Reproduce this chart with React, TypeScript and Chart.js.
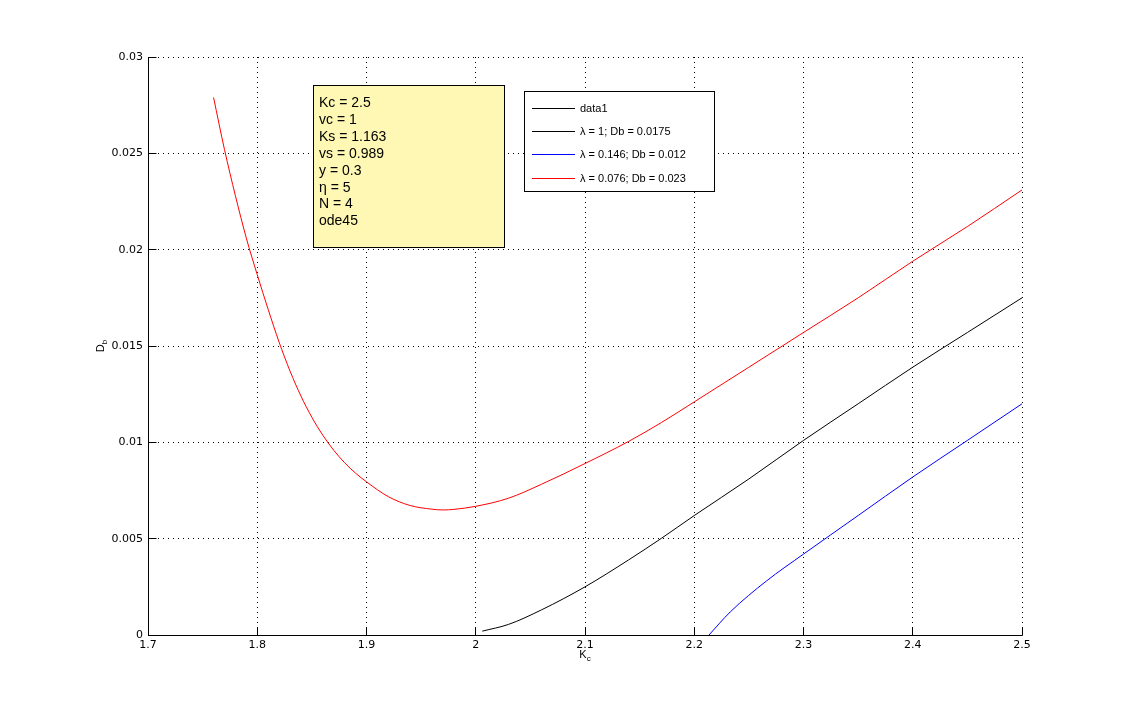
import React, { useEffect, useRef } from "react";
import { Chart, registerables } from "chart.js";

Chart.register(...registerables);

// ---- axes ----
const xTickValues = [1.7, 1.8, 1.9, 2.0, 2.1, 2.2, 2.3, 2.4, 2.5];
const xTickLabels = ["1.7", "1.8", "1.9", "2", "2.1", "2.2", "2.3", "2.4", "2.5"];
const yTickValues = [0, 0.005, 0.01, 0.015, 0.02, 0.025, 0.03];
const yTickLabels = ["0", "0.005", "0.01", "0.015", "0.02", "0.025", "0.03"];

// ---- series ----
const seriesLabels = [
  "data1",
  "λ = 1; Db = 0.0175",
  "λ = 0.146; Db = 0.012",
  "λ = 0.076; Db = 0.023",
];
const seriesColors = ["#000000", "#000000", "#0000ff", "#ff0000"];

const data1Kc: number[] = [];
const data1Db: number[] = [];

const blackKc = [2.006, 2.03, 2.06, 2.1, 2.14, 2.17, 2.2, 2.25, 2.3, 2.35, 2.4, 2.45, 2.5];
const blackDb = [0.0002, 0.00055, 0.0013, 0.0025, 0.0039, 0.00502, 0.0062, 0.0081, 0.0101, 0.012, 0.0139, 0.0157, 0.0175];

const blueKc = [2.2135, 2.233, 2.266, 2.3, 2.35, 2.4, 2.45, 2.5];
const blueDb = [0, 0.0012, 0.0028, 0.0042, 0.0062, 0.0082, 0.0101, 0.012];

const redKc = [1.76, 1.77, 1.78, 1.79, 1.8, 1.81, 1.82, 1.83, 1.84, 1.85, 1.86, 1.87, 1.88, 1.89, 1.9, 1.92, 1.94, 1.96, 1.97, 1.98, 2.0, 2.03, 2.06, 2.1, 2.14, 2.17, 2.2, 2.25, 2.3, 2.35, 2.4, 2.45, 2.5];
const redDb = [0.0279, 0.0252, 0.0228, 0.0206, 0.0187, 0.0169, 0.0152, 0.0137, 0.0124, 0.0113, 0.01037, 0.00959, 0.00894, 0.0084, 0.00795, 0.00718, 0.00672, 0.00653, 0.00649, 0.00652, 0.00668, 0.0071, 0.00782, 0.0089, 0.01005, 0.01103, 0.0121, 0.0139, 0.0157, 0.0175, 0.0194, 0.0212, 0.0231];

const infoLines = ["Kc = 2.5", "vc = 1", "Ks = 1.163", "vs = 0.989", "y = 0.3", "η = 5", "N = 4", "ode45"];

const seriesKc = [data1Kc, blackKc, blueKc, redKc];
const seriesDb = [data1Db, blackDb, blueDb, redDb];

const TICK_FONT = { family: "DejaVu Sans", size: 11 };

const overlayPlugin = {
  id: "overlay",
  afterDraw(chart: any) {
    const ctx: CanvasRenderingContext2D = chart.ctx;
    const { left, right, top, bottom } = chart.chartArea;
    const xs = chart.scales.x;
    const ys = chart.scales.y;
    ctx.save();

    // axis lines + inward ticks
    ctx.strokeStyle = "#000";
    ctx.lineWidth = 1;
    ctx.setLineDash([]);
    const L = Math.floor(left) + 0.5;
    const B = Math.floor(bottom) + 0.5;
    ctx.beginPath();
    ctx.moveTo(L, top);
    ctx.lineTo(L, B);
    ctx.lineTo(right + 0.5, B);
    xTickValues.forEach((v) => {
      const px = Math.floor(xs.getPixelForValue(v)) + 0.5;
      ctx.moveTo(px, B);
      ctx.lineTo(px, B - 8);
    });
    yTickValues.forEach((v) => {
      const py = Math.floor(ys.getPixelForValue(v)) + 0.5;
      ctx.moveTo(L, py);
      ctx.lineTo(L + 8, py);
    });
    ctx.stroke();

    // x axis label K_c
    ctx.fillStyle = "#000";
    ctx.textBaseline = "alphabetic";
    ctx.textAlign = "left";
    const cx = (left + right) / 2;
    ctx.font = '11px "Liberation Sans"';
    const wK = ctx.measureText("K").width;
    ctx.font = '8px "Liberation Sans"';
    const wc = ctx.measureText("c").width;
    const sx = cx - (wK + wc) / 2;
    ctx.font = '11px "Liberation Sans"';
    ctx.fillText("K", sx, 658);
    ctx.font = '8px "Liberation Sans"';
    ctx.fillText("c", sx + wK, 661);

    // y axis label D_b
    ctx.save();
    const cy = (top + bottom) / 2;
    ctx.translate(104, cy);
    ctx.rotate(-Math.PI / 2);
    ctx.font = '11px "Liberation Sans"';
    const wD = ctx.measureText("D").width;
    ctx.font = '8px "Liberation Sans"';
    const wb = ctx.measureText("b").width;
    const sy = -(wD + wb) / 2;
    ctx.font = '11px "Liberation Sans"';
    ctx.fillText("D", sy, 0);
    ctx.font = '8px "Liberation Sans"';
    ctx.fillText("b", sy + wD, 3);
    ctx.restore();

    // parameter text box
    ctx.fillStyle = "rgb(255,248,180)";
    ctx.fillRect(313.5, 85.5, 191, 162);
    ctx.strokeStyle = "#000";
    ctx.strokeRect(313.5, 85.5, 191, 162);
    ctx.fillStyle = "#000";
    ctx.font = '14px "Liberation Sans"';
    ctx.textBaseline = "alphabetic";
    infoLines.forEach((t, i) => {
      ctx.fillText(t, 319, 107 + i * 16.9);
    });

    // legend
    ctx.fillStyle = "#fff";
    ctx.fillRect(524.5, 91.5, 190, 100);
    ctx.strokeStyle = "#000";
    ctx.strokeRect(524.5, 91.5, 190, 100);
    ctx.font = '11px "Liberation Sans"';
    ctx.textBaseline = "middle";
    chart.data.datasets.forEach((ds: any, i: number) => {
      const ry = Math.round(107.5 + i * 23.4) + 0.5;
      ctx.strokeStyle = ds.borderColor;
      ctx.beginPath();
      ctx.moveTo(532, ry);
      ctx.lineTo(575, ry);
      ctx.stroke();
      ctx.fillStyle = "#000";
      ctx.fillText(ds.label, 580, ry);
    });

    ctx.restore();
  },
};

export default function App() {
  const canvasRef = useRef<HTMLCanvasElement | null>(null);

  useEffect(() => {
    if (!canvasRef.current) return;
    const datasets = seriesLabels.map((label, i) => ({
      label,
      data: seriesKc[i].map((x, j) => ({ x, y: seriesDb[i][j] })),
      borderColor: seriesColors[i],
      backgroundColor: seriesColors[i],
      borderWidth: 1,
      pointRadius: 0,
      fill: false,
      cubicInterpolationMode: "monotone" as const,
    }));

    const chart = new Chart(canvasRef.current, {
      type: "line",
      data: { datasets },
      options: {
        animation: false,
        responsive: false,
        devicePixelRatio: 1,
        layout: { padding: { top: 57, right: 106, left: 0, bottom: 0 } },
        plugins: {
          legend: { display: false },
          tooltip: { enabled: false },
        },
        scales: {
          x: {
            type: "linear",
            min: 1.7,
            max: 2.5,
            afterBuildTicks: (s: any) => {
              s.ticks = xTickValues.map((v) => ({ value: v }));
            },
            afterFit: (s: any) => {
              s.height = 78;
            },
            ticks: {
              callback: (_v: any, i: number) => xTickLabels[i],
              font: TICK_FONT,
              color: "#000",
              padding: 4,
              maxRotation: 0,
              autoSkip: false,
            },
            grid: { color: "#000", lineWidth: 1, drawTicks: false },
            border: { display: false, dash: [1, 4] },
          },
          y: {
            type: "linear",
            min: 0,
            max: 0.03,
            afterBuildTicks: (s: any) => {
              s.ticks = yTickValues.map((v) => ({ value: v }));
            },
            afterFit: (s: any) => {
              s.width = 148;
            },
            ticks: {
              callback: (_v: any, i: number) => yTickLabels[i],
              font: TICK_FONT,
              color: "#000",
              padding: 5,
              autoSkip: false,
            },
            grid: { color: "#000", lineWidth: 1, drawTicks: false },
            border: { display: false, dash: [1, 4] },
          },
        },
      },
      plugins: [overlayPlugin],
    } as any);

    return () => chart.destroy();
  }, []);

  return (
    <div style={{ position: "fixed", left: 0, top: 0, width: 1128, height: 713, background: "#fff" }}>
      <canvas ref={canvasRef} width={1128} height={713} style={{ display: "block" }} />
    </div>
  );
}
